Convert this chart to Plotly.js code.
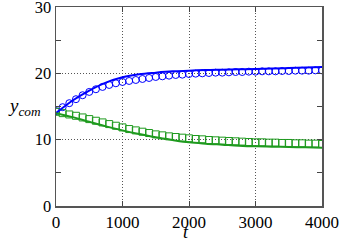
<!DOCTYPE html>
<html><head><meta charset="utf-8">
<script src="https://cdn.plot.ly/plotly-3.0.1.min.js"></script>
<style>html,body{margin:0;padding:0;background:#fff}#chart{width:341px;height:241px}</style>
</head><body><div id="chart"></div>
<script>
const tLine = [0,250,500,750,1000,1250,1500,1750,2000,2250,2500,2750,3000,3250,3500,3750,4000];
const upperLine = [14.0,15.9,17.4,18.6,19.4,19.85,20.1,20.3,20.4,20.5,20.55,20.6,20.65,20.72,20.8,20.88,20.95];
const lowerLine = [14.0,13.4,12.7,12.0,11.4,10.85,10.35,9.95,9.6,9.4,9.25,9.1,9.0,8.95,8.9,8.85,8.8];
const tMark = [0,100,200,300,400,500,600,700,800,900,1000,1100,1200,1300,1400,1500,1600,1700,1800,1900,2000,2100,2200,2300,2400,2500,2600,2700,2800,2900,3000,3100,3200,3300,3400,3500,3600,3700,3800,3900,4000];
const upperMarks = [14.3,14.9,15.5,16.1,16.7,17.2,17.6,17.95,18.25,18.5,18.7,18.85,19.0,19.15,19.3,19.45,19.55,19.65,19.75,19.8,19.9,19.95,20.0,20.05,20.1,20.1,20.15,20.2,20.2,20.25,20.25,20.3,20.3,20.3,20.35,20.35,20.4,20.4,20.4,20.45,20.45];
const lowerMarks = [14.2,14.0,13.8,13.6,13.35,13.1,12.85,12.6,12.35,12.1,11.85,11.6,11.4,11.2,11.0,10.8,10.65,10.5,10.4,10.3,10.2,10.1,10.05,9.95,9.9,9.85,9.8,9.75,9.7,9.65,9.6,9.6,9.55,9.55,9.5,9.5,9.45,9.45,9.4,9.4,9.35];
const xTicks = [0,1000,2000,3000,4000];
const yTicks = [0,10,20,30];

const blue = '#0000ff', green = '#1e9a1e';
const data = [
  {x:tMark, y:upperMarks, mode:'markers', type:'scatter', marker:{symbol:'circle-open', size:7, color:blue, line:{width:1}}},
  {x:tMark, y:lowerMarks, mode:'markers', type:'scatter', marker:{symbol:'square-open', size:7, color:green, line:{width:1}}},
  {x:tLine, y:upperLine, mode:'lines', type:'scatter', line:{color:blue, width:2, shape:'spline'}},
  {x:tLine, y:lowerLine, mode:'lines', type:'scatter', line:{color:green, width:2, shape:'spline'}}
];
const xfont = {family:'Liberation Serif, serif', size:17, color:'#000'};
const yfont = {family:'Liberation Serif, serif', size:16.5, color:'#000'};
const layout = {
  width:341, height:241, showlegend:false,
  margin:{l:56, r:19, t:7, b:35},
  paper_bgcolor:'#fff', plot_bgcolor:'#fff',
  font:xfont,
  xaxis:{range:[0,4000], tickvals:xTicks, ticktext:xTicks.map(String), ticks:'inside', ticklen:5,
    showline:true, linecolor:'#555', linewidth:1.5, mirror:'ticks', ticklabeloverflow:'allow',
    showgrid:true, gridcolor:'#555', griddash:'1px,2px', gridwidth:1, zeroline:false,
    tickfont:xfont, ticklabelstandoff:0},
  yaxis:{range:[0,30], tickvals:yTicks, ticktext:yTicks.map(String), ticks:'inside', ticklen:5,
    minor:{dtick:5, tick0:0, ticklen:5, ticks:'inside', showgrid:false},
    showline:true, linecolor:'#555', linewidth:1.5, mirror:'ticks', ticklabeloverflow:'allow',
    showgrid:true, gridcolor:'#555', griddash:'1px,2px', gridwidth:1, zeroline:false,
    tickfont:yfont},
  annotations:[
    {text:'<i>y</i><sub><i>com</i></sub>', xref:'paper', yref:'paper', x:-0.117, y:0.5, xanchor:'center', yanchor:'middle', showarrow:false, font:{family:'Liberation Serif, serif', size:19}},
    {text:'<i>t</i>', xref:'paper', yref:'paper', x:0.49, y:-0.186, xanchor:'center', yanchor:'bottom', borderpad:0, showarrow:false, font:{family:'Liberation Serif, serif', size:18}}
  ]
};
Plotly.newPlot('chart', data, layout, {staticPlot:true});
</script></body></html>
